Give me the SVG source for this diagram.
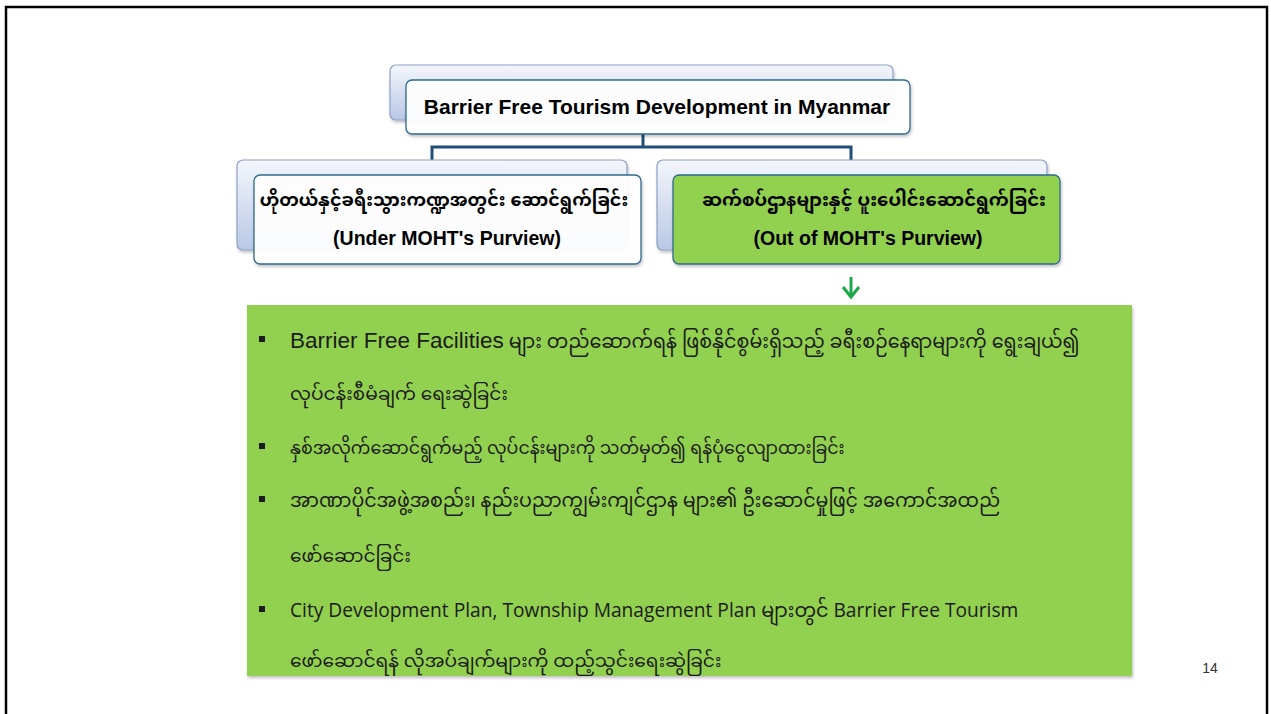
<svg xmlns="http://www.w3.org/2000/svg" width="1271" height="714" viewBox="0 0 1271 714">
<style>
.back{fill:url(#bg);stroke:#8da2c4;stroke-width:1.2}
.front{fill:#ffffff;fill-opacity:0.95;stroke:#2e6b8f;stroke-width:1.3}
.frontg{fill:#92d050;stroke:#2e6b8f;stroke-width:1.3}
.hd{font-family:"Liberation Sans",Arial,"Noto Sans Myanmar",sans-serif;font-weight:bold;fill:#000;text-anchor:middle}
.my{font-family:"Noto Sans Myanmar","Myanmar Text","Padauk",sans-serif;font-size:18.6px;fill:#1b1b1b}
.en{font-family:"Liberation Sans",Arial,"Noto Sans Myanmar",sans-serif;font-size:22.5px;fill:#1b1b1b}
.cal{font-family:"Open Sans","Noto Sans Myanmar",sans-serif;font-size:19.2px;fill:#1b1b1b}
.bul{fill:#1b1b1b}
.conn{fill:none;stroke:#1f4e79;stroke-width:3}
</style>
<defs>
<linearGradient id="bg" x1="0" y1="0" x2="0" y2="1">
<stop offset="0" stop-color="#f4f6fb"/>
<stop offset="1" stop-color="#b9c8e6"/>
</linearGradient>
<filter id="sh" x="-5%" y="-5%" width="110%" height="115%">
<feDropShadow dx="1" dy="2" stdDeviation="1.5" flood-color="#000" flood-opacity="0.25"/>
</filter>
</defs>
<rect width="1271" height="714" fill="#fff"/>
<path d="M6 714 V7 H1267 V714" fill="none" stroke="#000" stroke-width="2.5"/>

<g id="connectors">
<path class="conn" d="M643 134 V147 M432 160 V147 H851 V160"/>
<path d="M851 277 V296" stroke="#1ea84a" stroke-width="3" fill="none"/>
<path d="M843 287 L851 297 L859 287" stroke="#1ea84a" stroke-width="3" fill="none" stroke-linejoin="miter"/>
</g>

<g id="title">
<rect class="back" x="390" y="65" width="503" height="55" rx="6" filter="url(#sh)"/>
<rect class="front" x="406" y="80" width="504" height="54" rx="6" filter="url(#sh)"/>
<text class="hd" x="657" y="114" font-size="21">Barrier Free Tourism Development in Myanmar</text>
</g>

<g id="left">
<rect class="back" x="237" y="160" width="390" height="90" rx="6" filter="url(#sh)"/>
<rect class="front" x="254" y="175" width="387" height="89" rx="6" filter="url(#sh)"/>
<text class="hd" x="444" y="206" font-size="17.6">ဟိုတယ်နှင့်ခရီးသွားကဏ္ဍအတွင်း ဆောင်ရွက်ခြင်း</text>
<text class="hd" x="447" y="245" font-size="19.5">(Under MOHT's Purview)</text>
</g>

<g id="right">
<rect class="back" x="657" y="160" width="390" height="90" rx="6" filter="url(#sh)"/>
<rect class="frontg" x="673" y="175" width="387" height="89" rx="6" filter="url(#sh)"/>
<text class="hd" x="874" y="206" font-size="18">ဆက်စပ်ဌာနများနှင့် ပူးပေါင်းဆောင်ရွက်ခြင်း</text>
<text class="hd" x="868" y="245" font-size="19.5">(Out of MOHT's Purview)</text>
</g>

<g id="details">
<rect x="247" y="305" width="885" height="371" fill="#92d050" filter="url(#sh)"/>
<rect class="bul" x="259" y="336" width="6" height="6"/>
<text x="290" y="348"><tspan class="en">Barrier Free Facilities</tspan><tspan class="my" style="font-size:19.1px"> များ တည်ဆောက်ရန် ဖြစ်နိုင်စွမ်းရှိသည့် ခရီးစဉ်နေရာများကို ရွေးချယ်၍</tspan></text>
<text class="my" x="290" y="400">လုပ်ငန်းစီမံချက် ရေးဆွဲခြင်း</text>
<rect class="bul" x="259" y="443" width="6" height="6"/>
<text class="my" x="290" y="454" style="font-size:17.4px">နှစ်အလိုက်ဆောင်ရွက်မည့် လုပ်ငန်းများကို သတ်မှတ်၍ ရန်ပုံငွေလျာထားခြင်း</text>
<rect class="bul" x="259" y="496" width="6" height="6"/>
<text class="my" x="290" y="507" style="font-size:19px">အာဏာပိုင်အဖွဲ့အစည်း၊ နည်းပညာကျွမ်းကျင်ဌာန များ၏ ဦးဆောင်မှုဖြင့် အကောင်အထည်</text>
<text class="my" x="290" y="562">ဖော်ဆောင်ခြင်း</text>
<rect class="bul" x="259" y="606" width="6" height="6"/>
<text class="cal" x="290" y="617">City Development Plan, Township Management Plan များတွင် Barrier Free Tourism</text>
<text class="my" x="290" y="667">ဖော်ဆောင်ရန် လိုအပ်ချက်များကို ထည့်သွင်းရေးဆွဲခြင်း</text>
</g>

<text x="1210" y="673" font-family="Liberation Sans,Arial,sans-serif" font-size="14" fill="#333" text-anchor="middle">14</text>
</svg>
